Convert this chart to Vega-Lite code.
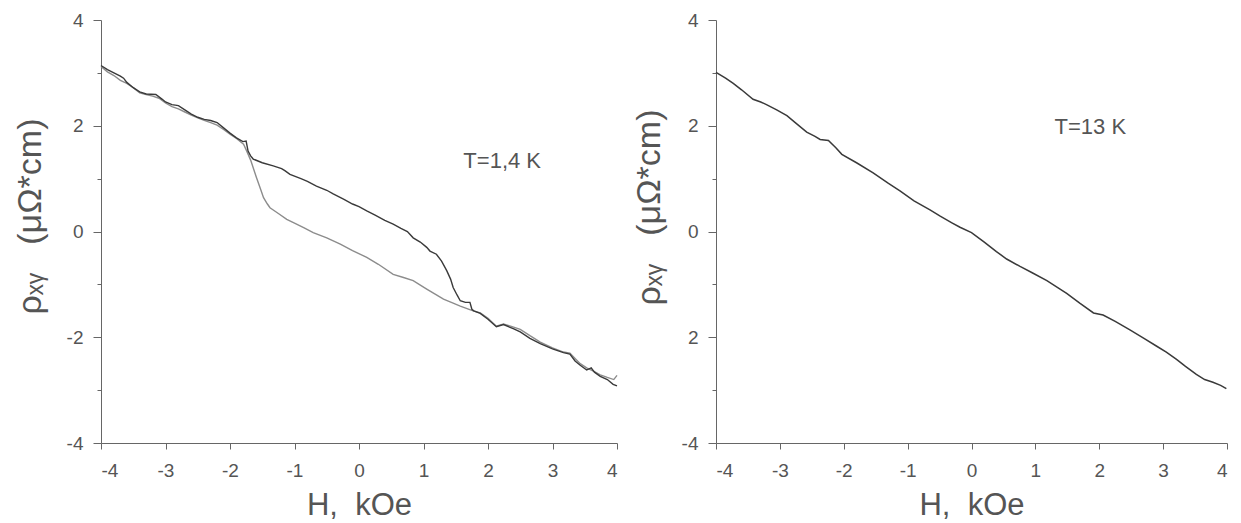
{
  "$schema": "https://vega.github.io/schema/vega-lite/v6.json",
  "padding": {"left": 13, "top": 11, "right": 5, "bottom": 5},
  "background": "white",
  "config": {
    "view": {"stroke": null},
    "font": "Liberation Sans",
    "axis": {
      "grid": false,
      "domainColor": "#666",
      "tickColor": "#666",
      "labelColor": "#555",
      "titleColor": "#555",
      "labelFontSize": 19,
      "titleFontWeight": "normal",
      "titleFontSize": 31,
      "labelFont": "Liberation Sans",
      "titleFont": "Liberation Sans"
    }
  },
  "spacing": 12,
  "datasets": {
    "low": [
      {"series": "down", "H": -4.0, "rho": 3.12}, {"series": "down", "H": -3.9, "rho": 3.02}, {"series": "down", "H": -3.8, "rho": 2.95}, {"series": "down", "H": -3.7, "rho": 2.86}, {"series": "down", "H": -3.6, "rho": 2.8}, {"series": "down", "H": -3.5, "rho": 2.72}, {"series": "down", "H": -3.4, "rho": 2.62}, {"series": "down", "H": -3.3, "rho": 2.59}, {"series": "down", "H": -3.2, "rho": 2.56}, {"series": "down", "H": -3.1, "rho": 2.52}, {"series": "down", "H": -3.0, "rho": 2.43}, {"series": "down", "H": -2.9, "rho": 2.36}, {"series": "down", "H": -2.8, "rho": 2.32}, {"series": "down", "H": -2.7, "rho": 2.26}, {"series": "down", "H": -2.6, "rho": 2.2}, {"series": "down", "H": -2.5, "rho": 2.15}, {"series": "down", "H": -2.4, "rho": 2.1}, {"series": "down", "H": -2.3, "rho": 2.06}, {"series": "down", "H": -2.2, "rho": 2.01}, {"series": "down", "H": -2.1, "rho": 1.93}, {"series": "down", "H": -2.0, "rho": 1.84}, {"series": "down", "H": -1.9, "rho": 1.76}, {"series": "down", "H": -1.79, "rho": 1.65}, {"series": "down", "H": -1.74, "rho": 1.52}, {"series": "down", "H": -1.68, "rho": 1.35}, {"series": "down", "H": -1.59, "rho": 1.02}, {"series": "down", "H": -1.52, "rho": 0.78}, {"series": "down", "H": -1.48, "rho": 0.64}, {"series": "down", "H": -1.42, "rho": 0.52}, {"series": "down", "H": -1.38, "rho": 0.45}, {"series": "down", "H": -1.25, "rho": 0.34}, {"series": "down", "H": -1.12, "rho": 0.23}, {"series": "down", "H": -1.0, "rho": 0.16}, {"series": "down", "H": -0.85, "rho": 0.07}, {"series": "down", "H": -0.71, "rho": -0.02}, {"series": "down", "H": -0.5, "rho": -0.12}, {"series": "down", "H": -0.29, "rho": -0.24}, {"series": "down", "H": -0.1, "rho": -0.36}, {"series": "down", "H": 0.12, "rho": -0.49}, {"series": "down", "H": 0.3, "rho": -0.62}, {"series": "down", "H": 0.53, "rho": -0.81}, {"series": "down", "H": 0.69, "rho": -0.87}, {"series": "down", "H": 0.84, "rho": -0.93}, {"series": "down", "H": 1.05, "rho": -1.09}, {"series": "down", "H": 1.2, "rho": -1.2}, {"series": "down", "H": 1.31, "rho": -1.28}, {"series": "down", "H": 1.45, "rho": -1.35}, {"series": "down", "H": 1.57, "rho": -1.41}, {"series": "down", "H": 1.77, "rho": -1.5}, {"series": "down", "H": 1.88, "rho": -1.54}, {"series": "down", "H": 2.0, "rho": -1.64}, {"series": "down", "H": 2.13, "rho": -1.79}, {"series": "down", "H": 2.24, "rho": -1.75}, {"series": "down", "H": 2.35, "rho": -1.79}, {"series": "down", "H": 2.5, "rho": -1.85}, {"series": "down", "H": 2.65, "rho": -1.97}, {"series": "down", "H": 2.81, "rho": -2.09}, {"series": "down", "H": 3.0, "rho": -2.2}, {"series": "down", "H": 3.17, "rho": -2.28}, {"series": "down", "H": 3.27, "rho": -2.3}, {"series": "down", "H": 3.35, "rho": -2.4}, {"series": "down", "H": 3.43, "rho": -2.5}, {"series": "down", "H": 3.53, "rho": -2.58}, {"series": "down", "H": 3.65, "rho": -2.65}, {"series": "down", "H": 3.74, "rho": -2.71}, {"series": "down", "H": 3.85, "rho": -2.76}, {"series": "down", "H": 3.95, "rho": -2.8}, {"series": "down", "H": 4.0, "rho": -2.72},
      {"series": "up", "H": -4.0, "rho": 3.14}, {"series": "up", "H": -3.9, "rho": 3.06}, {"series": "up", "H": -3.8, "rho": 3.0}, {"series": "up", "H": -3.7, "rho": 2.94}, {"series": "up", "H": -3.65, "rho": 2.9}, {"series": "up", "H": -3.6, "rho": 2.82}, {"series": "up", "H": -3.5, "rho": 2.72}, {"series": "up", "H": -3.4, "rho": 2.64}, {"series": "up", "H": -3.3, "rho": 2.6}, {"series": "up", "H": -3.15, "rho": 2.59}, {"series": "up", "H": -3.05, "rho": 2.5}, {"series": "up", "H": -3.0, "rho": 2.45}, {"series": "up", "H": -2.9, "rho": 2.4}, {"series": "up", "H": -2.8, "rho": 2.38}, {"series": "up", "H": -2.7, "rho": 2.3}, {"series": "up", "H": -2.6, "rho": 2.22}, {"series": "up", "H": -2.5, "rho": 2.16}, {"series": "up", "H": -2.4, "rho": 2.12}, {"series": "up", "H": -2.3, "rho": 2.1}, {"series": "up", "H": -2.2, "rho": 2.06}, {"series": "up", "H": -2.1, "rho": 1.96}, {"series": "up", "H": -2.0, "rho": 1.86}, {"series": "up", "H": -1.9, "rho": 1.77}, {"series": "up", "H": -1.8, "rho": 1.7}, {"series": "up", "H": -1.75, "rho": 1.71}, {"series": "up", "H": -1.72, "rho": 1.52}, {"series": "up", "H": -1.68, "rho": 1.43}, {"series": "up", "H": -1.64, "rho": 1.37}, {"series": "up", "H": -1.5, "rho": 1.3}, {"series": "up", "H": -1.33, "rho": 1.24}, {"series": "up", "H": -1.2, "rho": 1.19}, {"series": "up", "H": -1.15, "rho": 1.15}, {"series": "up", "H": -1.07, "rho": 1.08}, {"series": "up", "H": -0.9, "rho": 1.0}, {"series": "up", "H": -0.8, "rho": 0.95}, {"series": "up", "H": -0.66, "rho": 0.86}, {"series": "up", "H": -0.5, "rho": 0.78}, {"series": "up", "H": -0.4, "rho": 0.71}, {"series": "up", "H": -0.24, "rho": 0.61}, {"series": "up", "H": -0.1, "rho": 0.52}, {"series": "up", "H": 0.0, "rho": 0.47}, {"series": "up", "H": 0.12, "rho": 0.39}, {"series": "up", "H": 0.25, "rho": 0.31}, {"series": "up", "H": 0.4, "rho": 0.21}, {"series": "up", "H": 0.53, "rho": 0.14}, {"series": "up", "H": 0.65, "rho": 0.06}, {"series": "up", "H": 0.75, "rho": 0.0}, {"series": "up", "H": 0.84, "rho": -0.12}, {"series": "up", "H": 0.95, "rho": -0.2}, {"series": "up", "H": 1.05, "rho": -0.3}, {"series": "up", "H": 1.1, "rho": -0.37}, {"series": "up", "H": 1.2, "rho": -0.43}, {"series": "up", "H": 1.28, "rho": -0.56}, {"series": "up", "H": 1.36, "rho": -0.74}, {"series": "up", "H": 1.42, "rho": -0.9}, {"series": "up", "H": 1.46, "rho": -1.06}, {"series": "up", "H": 1.52, "rho": -1.2}, {"series": "up", "H": 1.57, "rho": -1.31}, {"series": "up", "H": 1.65, "rho": -1.34}, {"series": "up", "H": 1.72, "rho": -1.34}, {"series": "up", "H": 1.75, "rho": -1.47}, {"series": "up", "H": 1.78, "rho": -1.5}, {"series": "up", "H": 1.88, "rho": -1.55}, {"series": "up", "H": 2.0, "rho": -1.66}, {"series": "up", "H": 2.13, "rho": -1.8}, {"series": "up", "H": 2.24, "rho": -1.76}, {"series": "up", "H": 2.4, "rho": -1.84}, {"series": "up", "H": 2.5, "rho": -1.9}, {"series": "up", "H": 2.65, "rho": -2.02}, {"series": "up", "H": 2.81, "rho": -2.12}, {"series": "up", "H": 3.0, "rho": -2.22}, {"series": "up", "H": 3.17, "rho": -2.29}, {"series": "up", "H": 3.27, "rho": -2.32}, {"series": "up", "H": 3.35, "rho": -2.45}, {"series": "up", "H": 3.43, "rho": -2.53}, {"series": "up", "H": 3.53, "rho": -2.62}, {"series": "up", "H": 3.6, "rho": -2.58}, {"series": "up", "H": 3.65, "rho": -2.66}, {"series": "up", "H": 3.74, "rho": -2.74}, {"series": "up", "H": 3.85, "rho": -2.8}, {"series": "up", "H": 3.94, "rho": -2.89}, {"series": "up", "H": 4.0, "rho": -2.92}
    ],
    "high": [
      {"H": -4.0, "rho": 3.01}, {"H": -3.85, "rho": 2.9}, {"H": -3.73, "rho": 2.8}, {"H": -3.6, "rho": 2.68}, {"H": -3.42, "rho": 2.5}, {"H": -3.3, "rho": 2.45}, {"H": -3.21, "rho": 2.4}, {"H": -3.05, "rho": 2.3}, {"H": -2.89, "rho": 2.19}, {"H": -2.75, "rho": 2.05}, {"H": -2.58, "rho": 1.88}, {"H": -2.45, "rho": 1.8}, {"H": -2.37, "rho": 1.74}, {"H": -2.24, "rho": 1.72}, {"H": -2.12, "rho": 1.58}, {"H": -2.03, "rho": 1.46}, {"H": -1.8, "rho": 1.3}, {"H": -1.54, "rho": 1.11}, {"H": -1.3, "rho": 0.91}, {"H": -1.12, "rho": 0.77}, {"H": -0.9, "rho": 0.58}, {"H": -0.65, "rho": 0.41}, {"H": -0.49, "rho": 0.29}, {"H": -0.3, "rho": 0.16}, {"H": -0.18, "rho": 0.08}, {"H": 0.0, "rho": -0.02}, {"H": 0.2, "rho": -0.2}, {"H": 0.39, "rho": -0.38}, {"H": 0.55, "rho": -0.52}, {"H": 0.76, "rho": -0.66}, {"H": 0.95, "rho": -0.78}, {"H": 1.18, "rho": -0.93}, {"H": 1.35, "rho": -1.06}, {"H": 1.49, "rho": -1.17}, {"H": 1.7, "rho": -1.36}, {"H": 1.91, "rho": -1.54}, {"H": 2.06, "rho": -1.58}, {"H": 2.25, "rho": -1.7}, {"H": 2.48, "rho": -1.86}, {"H": 2.7, "rho": -2.02}, {"H": 2.9, "rho": -2.17}, {"H": 3.05, "rho": -2.28}, {"H": 3.21, "rho": -2.42}, {"H": 3.35, "rho": -2.55}, {"H": 3.52, "rho": -2.7}, {"H": 3.65, "rho": -2.8}, {"H": 3.78, "rho": -2.85}, {"H": 3.9, "rho": -2.91}, {"H": 3.99, "rho": -2.97}
    ],
    "notes": [
      {"panel": "low", "H": 2.22, "rho": 1.34, "label": "T=1,4 K"},
      {"panel": "high", "H": 1.86, "rho": 1.97, "label": "T=13 K"}
    ]
  },
  "hconcat": [
    {
      "width": 516,
      "height": 423,
      "layer": [
        {
          "data": {"name": "low"},
          "mark": {"type": "line", "strokeWidth": 1.4},
          "encoding": {
            "x": {"field": "H", "type": "quantitative", "sort": null, "scale": {"domain": [-4, 4], "nice": false, "zero": false},
              "axis": {"values": [-4, -3.5, -3, -2.5, -2, -1.5, -1, -0.5, 0, 0.5, 1, 1.5, 2, 2.5, 3, 3.5, 4], "labelExpr": "datum.value % 1 == 0 ? toString(datum.value) : ''", "tickSize": {"condition": {"test": "datum.value % 1 == 0", "value": 6}, "value": 3}, "labelPadding": 12, "title": "H,\u00a0\u00a0kOe", "titleY": 71, "titleBaseline": "alphabetic"}},
            "y": {"field": "rho", "type": "quantitative", "scale": {"domain": [-4, 4], "nice": false, "zero": false},
              "axis": {"values": [-4, -3, -2, -1, 0, 1, 2, 3, 4], "labelExpr": "datum.value % 2 == 0 ? toString(datum.value) : ''", "tickSize": {"condition": {"test": "datum.value % 2 == 0", "value": 8}, "value": 4}, "labelPadding": 10, "title": "ρₓᵧ\u00a0\u00a0\u00a0(μΩ*cm)", "titleFontSize": 34, "titleX": -71, "titleY": 196, "titleAngle": -90, "titleAlign": "center", "titleBaseline": "middle"}},
            "color": {"field": "series", "type": "nominal", "scale": {"domain": ["down", "up"], "range": ["#8c8c8c", "#3a3a3a"]}, "legend": null}
          }
        },
        {
          "data": {"name": "notes"},
          "transform": [{"filter": "datum.panel == 'low'"}],
          "mark": {"type": "text", "fontSize": 22, "color": "#555", "font": "Liberation Sans"},
          "encoding": {
            "x": {"field": "H", "type": "quantitative"},
            "y": {"field": "rho", "type": "quantitative"},
            "text": {"field": "label"}
          }
        }
      ]
    },
    {
      "width": 511,
      "height": 423,
      "layer": [
        {
          "data": {"name": "high"},
          "mark": {"type": "line", "strokeWidth": 1.5, "color": "#3a3a3a"},
          "encoding": {
            "x": {"field": "H", "type": "quantitative", "scale": {"domain": [-4, 4], "nice": false, "zero": false},
              "axis": {"values": [-4, -3.5, -3, -2.5, -2, -1.5, -1, -0.5, 0, 0.5, 1, 1.5, 2, 2.5, 3, 3.5, 4], "labelExpr": "datum.value % 1 == 0 ? toString(datum.value) : ''", "tickSize": {"condition": {"test": "datum.value % 1 == 0", "value": 6}, "value": 3}, "labelPadding": 12, "title": "H,\u00a0\u00a0kOe", "titleY": 71, "titleBaseline": "alphabetic"}},
            "y": {"field": "rho", "type": "quantitative", "scale": {"domain": [-4, 4], "nice": false, "zero": false},
              "axis": {"values": [-4, -3, -2, -1, 0, 1, 2, 3, 4], "labelExpr": "datum.value == -2 ? '2' : (datum.value % 2 == 0 ? toString(datum.value) : '')", "tickSize": {"condition": {"test": "datum.value % 2 == 0", "value": 8}, "value": 4}, "labelPadding": 10, "title": "ρₓᵧ\u00a0\u00a0\u00a0(μΩ*cm)", "titleFontSize": 34, "titleX": -67, "titleY": 187, "titleAngle": -90, "titleAlign": "center", "titleBaseline": "middle"}}
          }
        },
        {
          "data": {"name": "notes"},
          "transform": [{"filter": "datum.panel == 'high'"}],
          "mark": {"type": "text", "fontSize": 22, "color": "#555", "font": "Liberation Sans"},
          "encoding": {
            "x": {"field": "H", "type": "quantitative"},
            "y": {"field": "rho", "type": "quantitative"},
            "text": {"field": "label"}
          }
        }
      ]
    }
  ]
}
